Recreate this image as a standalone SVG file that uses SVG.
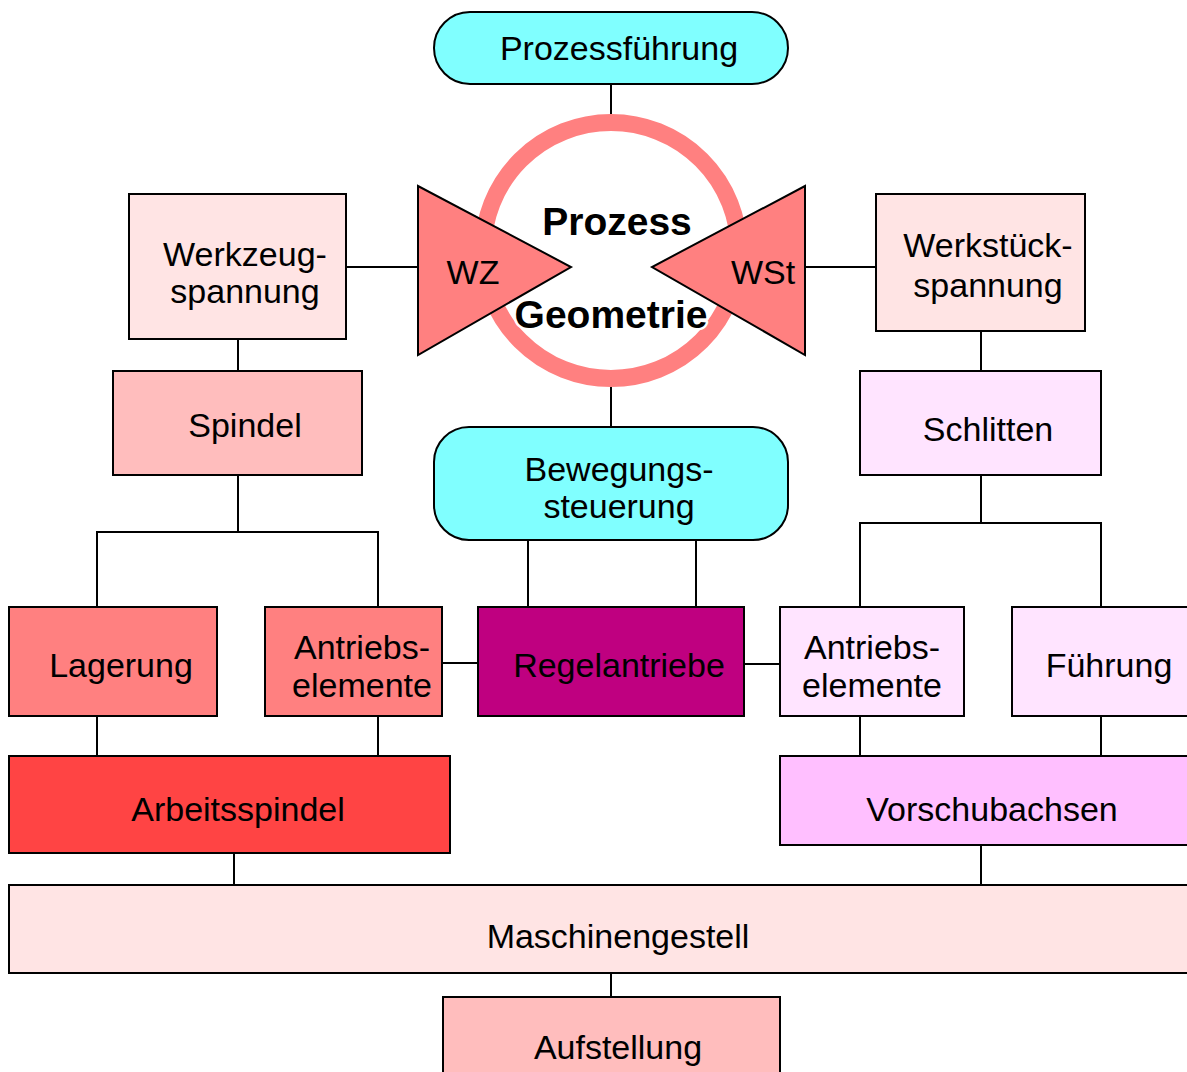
<svg xmlns="http://www.w3.org/2000/svg" width="1187" height="1072" viewBox="0 0 1187 1072">
<style>
.b{stroke:#000;stroke-width:2}
.l{stroke:#000;stroke-width:2;fill:none}
.t{font-family:"Liberation Sans",Arial,sans-serif;font-size:34px;fill:#000;text-anchor:middle}
.bt{font-family:"Liberation Sans",Arial,sans-serif;font-size:39px;font-weight:bold;fill:#000;text-anchor:middle;stroke:#fff;stroke-width:5;paint-order:stroke;stroke-linejoin:round}
</style>
<rect width="1187" height="1072" fill="#fff"/>
<g id="connectors">
<path class="l" d="M611 84V123M611 378V427"/>
<path class="l" d="M346 267H418M805 267H876"/>
<path class="l" d="M238 339V371M981 331V371"/>
<path class="l" d="M528 540V607M696 540V607"/>
<path class="l" d="M238 475V532M97 607V532H378V607"/>
<path class="l" d="M981 475V523M860 607V523H1101V607"/>
<path class="l" d="M442 663H478M744 664H780"/>
<path class="l" d="M97 716V756M378 716V756M860 716V756M1101 716V756"/>
<path class="l" d="M234 853V885M981 845V885M611 973V997"/>
</g>
<g id="prozess">
<circle cx="611" cy="250.5" r="128" fill="#fff" stroke="#FF8080" stroke-width="17"/>
</g>
<g id="wz">
<polygon class="b" points="418,186 418,355 571,267" fill="#FF8080"/>
<text class="t" x="473" y="284">WZ</text>
</g>
<g id="wst">
<polygon class="b" points="805,186 805,355 652,267" fill="#FF8080"/>
<text class="t" x="763" y="284">WSt</text>
</g>
<g id="prozess-text">
<text class="bt" x="617" y="235">Prozess</text>
<text class="bt" x="611" y="328">Geometrie</text>
</g>
<g id="prozessfuehrung">
<rect class="b" x="434" y="12" width="354" height="72" rx="36" fill="#80FFFF"/>
<text class="t" x="619" y="60">Prozessführung</text>
</g>
<g id="werkzeugspannung">
<rect class="b" x="129" y="194" width="217" height="145" fill="#FFE4E4"/>
<text class="t" x="245" y="266">Werkzeug-</text>
<text class="t" x="245" y="303">spannung</text>
</g>
<g id="werkstueckspannung">
<rect class="b" x="876" y="194" width="209" height="137" fill="#FFE4E4"/>
<text class="t" x="988" y="257">Werkstück-</text>
<text class="t" x="988" y="297">spannung</text>
</g>
<g id="spindel">
<rect class="b" x="113" y="371" width="249" height="104" fill="#FFBDBD"/>
<text class="t" x="245" y="437">Spindel</text>
</g>
<g id="schlitten">
<rect class="b" x="860" y="371" width="241" height="104" fill="#FFE4FF"/>
<text class="t" x="988" y="441">Schlitten</text>
</g>
<g id="bewegungssteuerung">
<rect class="b" x="434" y="427" width="354" height="113" rx="35" fill="#80FFFF"/>
<text class="t" x="619" y="481">Bewegungs-</text>
<text class="t" x="619" y="518">steuerung</text>
</g>
<g id="lagerung">
<rect class="b" x="9" y="607" width="208" height="109" fill="#FF8080"/>
<text class="t" x="121" y="677">Lagerung</text>
</g>
<g id="antrieb-links">
<rect class="b" x="265" y="607" width="177" height="109" fill="#FF8080"/>
<text class="t" x="362" y="659">Antriebs-</text>
<text class="t" x="362" y="697">elemente</text>
</g>
<g id="regelantriebe">
<rect class="b" x="478" y="607" width="266" height="109" fill="#BF0080"/>
<text class="t" x="619" y="677">Regelantriebe</text>
</g>
<g id="antrieb-rechts">
<rect class="b" x="780" y="607" width="184" height="109" fill="#FFE4FF"/>
<text class="t" x="872" y="659">Antriebs-</text>
<text class="t" x="872" y="697">elemente</text>
</g>
<g id="fuehrung">
<rect class="b" x="1012" y="607" width="185" height="109" fill="#FFE4FF"/>
<text class="t" x="1109" y="677">Führung</text>
</g>
<g id="arbeitsspindel">
<rect class="b" x="9" y="756" width="441" height="97" fill="#FF4444"/>
<text class="t" x="238" y="821">Arbeitsspindel</text>
</g>
<g id="vorschubachsen">
<rect class="b" x="780" y="756" width="417" height="89" fill="#FFBFFF"/>
<text class="t" x="992" y="821">Vorschubachsen</text>
</g>
<g id="maschinengestell">
<rect class="b" x="9" y="885" width="1188" height="88" fill="#FFE4E4"/>
<text class="t" x="618" y="948">Maschinengestell</text>
</g>
<g id="aufstellung">
<rect class="b" x="443" y="997" width="337" height="85" fill="#FFBDBD"/>
<text class="t" x="618" y="1059">Aufstellung</text>
</g>
</svg>
